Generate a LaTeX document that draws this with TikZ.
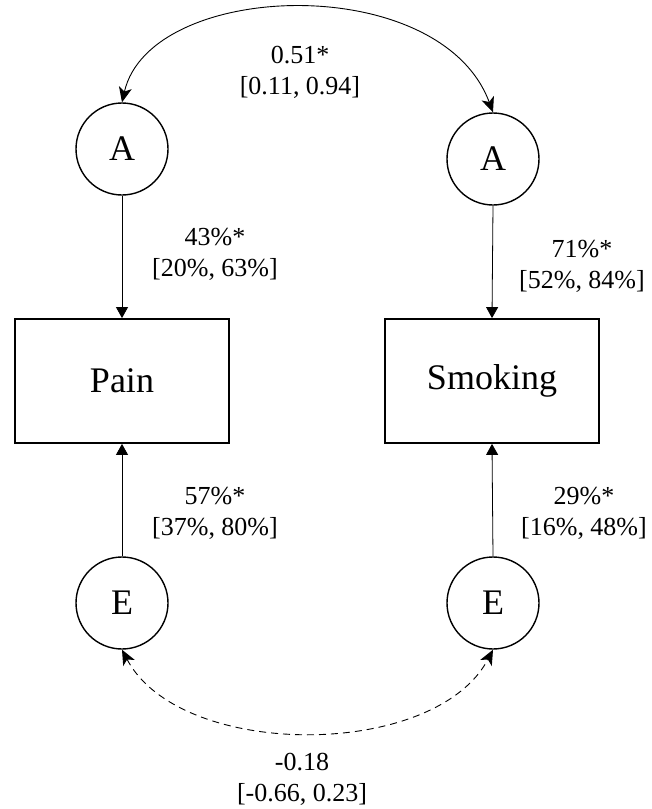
\documentclass[tikz,border=0pt]{standalone}
\usepackage{fontspec}
\setmainfont{Liberation Serif}
\usetikzlibrary{arrows.meta}

\begin{document}
\begin{tikzpicture}[x=1pt,y=-1pt,
    latent/.style={circle,draw,line width=1.4pt,minimum size=92pt,inner sep=0pt,font=\fontsize{36}{40}\selectfont},
    observed/.style={rectangle,draw,line width=1.8pt,minimum width=214pt,minimum height=124pt,inner sep=0pt,font=\fontsize{36}{42}\selectfont},
    load/.style={line width=0.8pt,-{Triangle[length=11pt,width=12pt]}},
    cov/.style={line width=0.9pt,{Stealth[length=15pt,width=13pt,inset=4pt]}-{Stealth[length=15pt,width=13pt,inset=4pt]}},
    est/.style={align=center,font=\fontsize{26}{31}\selectfont}]
    \useasboundingbox (0,0) rectangle (651,809);

    % Observed variables
    \node[observed] (pain) at (122,381) {Pain};
    \node[observed] (smoking) at (492,381) {Smoking};

    % Additive genetic factors
    \node[latent] (paA) at (122,149) {A};
    \node[latent] (smA) at (493,159) {A};

    % Unique environment factors
    \node[latent] (paE) at (122,603) {E};
    \node[latent] (smE) at (493,603) {E};

    % Paths to the phenotypes
    \draw[load] (paA.south) -- (pain.north);
    \draw[load] (smA.south) -- (smoking.north);
    \draw[load] (paE.north) -- (pain.south);
    \draw[load] (smE.north) -- (smoking.south);

    % Genetic correlation
    \draw[cov] (paA.north) .. controls (150,-20) and (440,-30) .. (smA.north);
    \node[est] (rA) at (300,72) {0.51*\\ {[}0.11, 0.94]};

    % Environmental correlation
    \draw[cov,dashed,dash pattern=on 7pt off 5pt] (paE.south) .. controls (180,760) and (435,760) .. (smE.south);
    \node[est] (rE) at (302,779) {-0.18\\ {[}-0.66, 0.23]};

    % Variance components
    \node[est] (paAlab) at (215,254) {43\%*\\ {[}20\%, 63\%]};
    \node[est] (smAlab) at (582,266) {71\%*\\ {[}52\%, 84\%]};
    \node[est] (paElab) at (215,513) {57\%*\\ {[}37\%, 80\%]};
    \node[est] (smElab) at (584,513) {29\%*\\ {[}16\%, 48\%]};
\end{tikzpicture}
\end{document}
